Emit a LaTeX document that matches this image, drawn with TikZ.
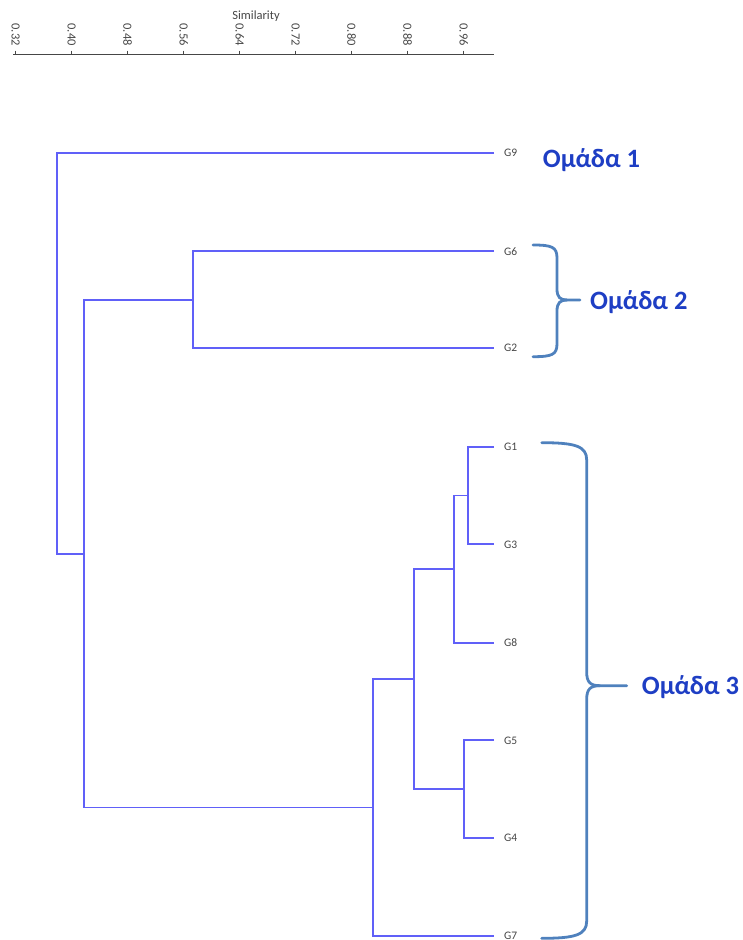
\documentclass[tikz,border=0pt]{standalone}
\usepackage{fontspec}
\setmainfont{Carlito}
\definecolor{treeblue}{RGB}{96,96,248}
\definecolor{grpblue}{RGB}{30,62,196}
\definecolor{bracecol}{RGB}{79,129,189}
\definecolor{axisgray}{RGB}{70,70,70}
\definecolor{labgray}{RGB}{70,70,70}
\tikzset{
  branch/.style={draw=treeblue, line width=1.7pt},
  leaflab/.style={anchor=west, inner sep=0pt, text=labgray, font=\fontsize{11.5}{13}\selectfont},
  ticklab/.style={rotate=-90, anchor=east, inner sep=0pt, text=axisgray, font=\fontsize{12.5}{14}\selectfont},
  grouplab/.style={anchor=west, inner sep=0pt, text=grpblue, font=\fontsize{26.5}{30}\selectfont\bfseries},
  bracestyle/.style={draw=bracecol, line width=2.8pt, line cap=round, line join=round},
}
\begin{document}
\begin{tikzpicture}[x=1pt, y=-1pt]
\useasboundingbox (0,0) rectangle (743,940);

% similarity axis
\draw[axisgray, line width=0.8pt] (13,54.3) -- (494,54.3);
\foreach \v [count=\i from 0] in {0.32,0.40,0.48,0.56,0.64,0.72,0.80,0.88,0.96} {
  \pgfmathsetmacro{\xx}{15.7+56*\i}
  \draw[axisgray, line width=0.8pt] (\xx,50.5) -- (\xx,54.3);
  \node[ticklab] (t\i) at (\xx,46) {\v};
}
\node[inner sep=0pt, text=axisgray, font=\fontsize{12.5}{14}\selectfont] (simlabel) at (256,16.5) {Similarity};

% leaf ends of the dendrogram
\foreach \name/\yy in {9/153.3, 6/251.3, 2/348.3, 1/446.7, 3/544.3, 8/642.7, 5/740.3, 4/838.0, 7/935.7} {
  \coordinate (e\name) at (494,\yy);
  \node[leaflab] (G\name) at (504,\yy) {G\name};
}

% merge points (x = similarity level, y = midpoint of the merged clusters)
\coordinate (mf) at (468.3,495.5);   % G1 + G3
\coordinate (me) at (454.3,569.1);   % (G1,G3) + G8
\coordinate (mg) at (464.0,789.2);   % G5 + G4
\coordinate (md) at (414.0,679.2);
\coordinate (mc) at (373.3,807.5);   % + G7
\coordinate (mb) at (193.3,299.8);   % G6 + G2
\coordinate (ma) at (84.3,553.7);
\coordinate (mr) at (57.3,353.5);    % root, with G9

% branches
\draw[branch] (e1) -| (mf) |- (e3);
\draw[branch] (mf) -| (me) |- (e8);
\draw[branch] (e5) -| (mg) |- (e4);
\draw[branch] (me) -| (md) |- (mg);
\draw[branch] (md) -| (mc) |- (e7);
\draw[branch] (e6) -| (mb) |- (e2);
\draw[branch] (mb) -| (ma) |- (mc);
\draw[branch] (e9) -| (mr) |- (ma);

% group braces
\draw[bracestyle] (533,245) .. controls (552,245) and (557,247) .. (557,258)
  -- (557,289) .. controls (557,297) and (560,300) .. (567,300) -- (580,300);
\draw[bracestyle] (533,356.7) .. controls (552,356.7) and (557,354.7) .. (557,343.7)
  -- (557,311) .. controls (557,303) and (560,300) .. (567,300);

\draw[bracestyle] (541.7,442.7) .. controls (575,442.7) and (586.7,446) .. (586.7,460)
  -- (586.7,672) .. controls (586.7,682) and (590,685.7) .. (600,685.7) -- (626.7,685.7);
\draw[bracestyle] (541.7,938.3) .. controls (575,938.3) and (586.7,935) .. (586.7,921)
  -- (586.7,699.4) .. controls (586.7,689.4) and (590,685.7) .. (600,685.7);

% group labels
\node[grouplab] (grp1) at (542.7,160) {Ομάδα 1};
\node[grouplab] (grp2) at (590,301.7) {Ομάδα 2};
\node[grouplab] (grp3) at (641.7,686.7) {Ομάδα 3};
\end{tikzpicture}
\end{document}
